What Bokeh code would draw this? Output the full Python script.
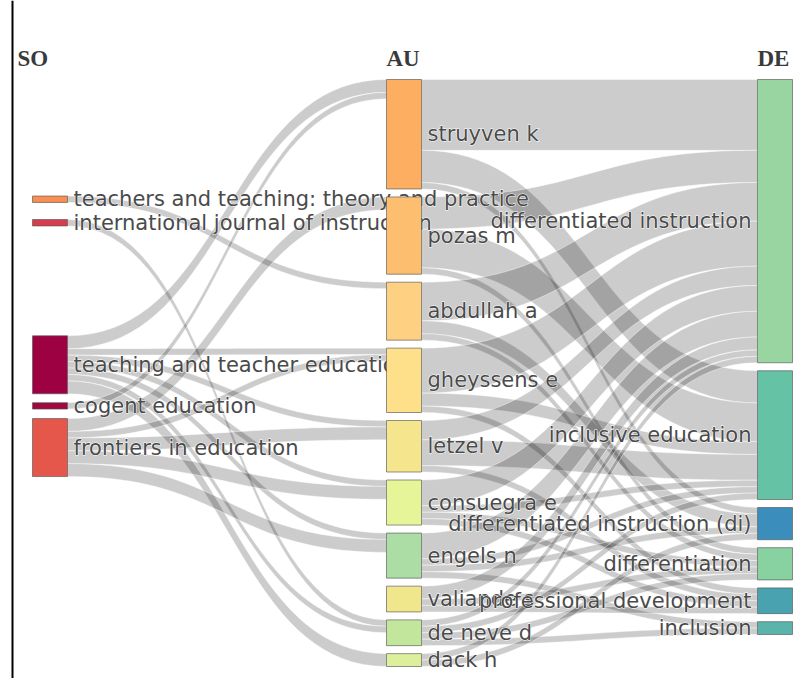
import numpy as np
from bokeh.plotting import figure
from bokeh.models import Range1d, Span
from bokeh.embed import file_html
from bokeh.resources import INLINE
from bokeh.core.properties import value

# ---------------- data ----------------
field_titles = ["SO", "AU", "DE"]

so_nodes = ["teachers and teaching: theory and practice",
            "international journal of instruction",
            "teaching and teacher education",
            "cogent education",
            "frontiers in education"]
au_nodes = ["struyven k", "pozas m", "abdullah a", "gheyssens e", "letzel v",
            "consuegra e", "engels n", "valiande s", "de neve d", "dack h"]
de_nodes = ["differentiated instruction", "inclusive education",
            "differentiated instruction (di)", "differentiation",
            "professional development", "inclusion"]

# SO -> AU links
sa_src = ["teachers and teaching: theory and practice",
          "international journal of instruction",
          "teaching and teacher education", "teaching and teacher education",
          "teaching and teacher education", "teaching and teacher education",
          "teaching and teacher education", "teaching and teacher education",
          "teaching and teacher education",
          "cogent education",
          "frontiers in education", "frontiers in education", "frontiers in education",
          "frontiers in education", "frontiers in education"]
sa_tgt = ["abdullah a",
          "de neve d",
          "struyven k", "gheyssens e", "letzel v", "consuegra e", "engels n", "de neve d", "dack h",
          "struyven k",
          "pozas m", "gheyssens e", "letzel v", "consuegra e", "engels n"]
sa_val = [1, 1, 2, 1, 1, 1, 1, 1, 2, 1, 2, 1, 2, 2, 2]

# AU -> DE links
ad_src = ["struyven k", "struyven k", "struyven k",
          "pozas m", "pozas m", "pozas m",
          "abdullah a", "abdullah a", "abdullah a",
          "gheyssens e", "gheyssens e", "gheyssens e",
          "letzel v", "letzel v", "letzel v",
          "consuegra e", "consuegra e", "consuegra e", "consuegra e",
          "engels n", "engels n", "engels n", "engels n",
          "valiande s", "valiande s", "valiande s",
          "de neve d", "de neve d", "de neve d", "de neve d",
          "dack h", "dack h"]
ad_tgt = ["differentiated instruction", "inclusive education", "differentiated instruction (di)",
          "differentiated instruction", "inclusive education", "differentiation",
          "differentiated instruction", "differentiated instruction (di)", "differentiation",
          "differentiated instruction", "inclusive education", "professional development",
          "differentiated instruction", "inclusive education", "professional development",
          "differentiated instruction", "inclusive education", "differentiation", "professional development",
          "differentiated instruction", "inclusive education", "differentiated instruction (di)", "inclusion",
          "differentiated instruction", "differentiation", "professional development",
          "differentiated instruction", "inclusive education", "differentiation", "inclusion",
          "differentiated instruction", "differentiated instruction (di)"]
ad_val = [11, 5, 1,
          5, 6, 1,
          6, 2, 1,
          7, 2, 1,
          3, 4, 1,
          4, 1, 1, 1,
          4, 1, 1, 1,
          2, 1, 1,
          1, 1, 1, 1,
          1, 1]

# ---------------- styles / layout settings ----------------
so_colors = ["#f98e52", "#d53e4f", "#9e0142", "#a0083f", "#e4574a"]
au_colors = ["#fdae61", "#fdbf6f", "#fed081", "#fee08b", "#f5e58c",
             "#e6f598", "#abdda4", "#f0e68c", "#c3e69d", "#dcf09b"]
de_colors = ["#99d5a0", "#66c2a5", "#3b8dbb", "#88d1a0", "#48a2b0", "#5ab4ac"]

COL_X = [32, 386, 757]          # left edge of each column of nodes
NODE_W = 35
TOP, BOTTOM = 79, 666           # vertical extent of the diagram
PAD = 8                         # gap between nodes
SO_NODE_Y = [0.204, 0.244, 0.486, 0.556, 0.627]   # fixed arrangement of first column (node centres)

col_nodes = [so_nodes, au_nodes, de_nodes]
col_colors = [so_colors, au_colors, de_colors]

links = []
for s, t, v in zip(sa_src, sa_tgt, sa_val):
    links.append((0, so_nodes.index(s), au_nodes.index(t), v))
for s, t, v in zip(ad_src, ad_tgt, ad_val):
    links.append((1, au_nodes.index(s), de_nodes.index(t), v))

in_sum = [np.zeros(len(c)) for c in col_nodes]
out_sum = [np.zeros(len(c)) for c in col_nodes]
for c, i, j, v in links:
    out_sum[c][i] += v
    in_sum[c + 1][j] += v
node_val = [np.maximum(in_sum[c], out_sum[c]) for c in range(3)]
ky = min((BOTTOM - TOP - (len(col_nodes[c]) - 1) * PAD) / node_val[c].sum() for c in range(3))
heights = [node_val[c] * ky for c in range(3)]

tops = []
so_tops = np.array([TOP + f * (BOTTOM - TOP) for f in SO_NODE_Y]) - heights[0] / 2
tops.append(so_tops)
for c in (1, 2):
    t = TOP + np.concatenate([[0], np.cumsum(heights[c][:-1] + PAD)])
    tops.append(t)

# link slots (outgoing ordered by target position, incoming by source position)
sy0 = {}
ty0 = {}
for c in (0, 1):
    for i in range(len(col_nodes[c])):
        ks = [k for k, l in enumerate(links) if l[0] == c and l[1] == i]
        ks.sort(key=lambda k: tops[c + 1][links[k][2]])
        y = tops[c][i]
        for k in ks:
            sy0[k] = y
            y += links[k][3] * ky
    for j in range(len(col_nodes[c + 1])):
        ks = [k for k, l in enumerate(links) if l[0] == c and l[2] == j]
        ks.sort(key=lambda k: tops[c][links[k][1]])
        y = tops[c + 1][j]
        for k in ks:
            ty0[k] = y
            y += links[k][3] * ky

tt = np.linspace(0, 1, 40)


def bez(x0, x1, y0, y1):
    xm = (x0 + x1) / 2
    bx = (1 - tt) ** 3 * x0 + 3 * (1 - tt) ** 2 * tt * xm + 3 * (1 - tt) * tt ** 2 * xm + tt ** 3 * x1
    by = (1 - tt) ** 3 * y0 + 3 * (1 - tt) ** 2 * tt * y0 + 3 * (1 - tt) * tt ** 2 * y1 + tt ** 3 * y1
    return bx, by


lxs, lys = [], []
for k, (c, i, j, v) in enumerate(links):
    xs0 = COL_X[c] + NODE_W
    xt0 = COL_X[c + 1]
    w = v * ky
    tx, tyv = bez(xs0, xt0, sy0[k], ty0[k])
    bx, byv = bez(xs0, xt0, sy0[k] + w, ty0[k] + w)
    lxs.append(list(tx) + list(bx[::-1]))
    lys.append(list(tyv) + list(byv[::-1]))

# ---------------- figure ----------------
W, H = 795, 678
p = figure(width=W, height=H, x_range=Range1d(0, W), y_range=Range1d(H, 0),
           output_backend="svg", toolbar_location=None, min_border=0)
p.axis.visible = False
p.grid.visible = False
p.outline_line_color = None
p.background_fill_color = "white"

p.add_layout(Span(location=12, dimension="height", line_color="black", line_width=2))

p.patches(lxs, lys, fill_color="black", fill_alpha=0.2,
          line_color="white", line_alpha=0.6, line_width=0.7)

LABEL_FONT = value("DejaVu Sans")
for c in range(3):
    left = np.full(len(col_nodes[c]), COL_X[c])
    p.quad(left=left, right=left + NODE_W, top=tops[c], bottom=tops[c] + heights[c],
           fill_color=col_colors[c], line_color="#555555", line_width=0.8, line_alpha=0.8)
    centers = tops[c] + heights[c] / 2
    if c < 2:
        lx = left + NODE_W + 6
        align = "left"
    else:
        lx = left - 6
        align = "right"
    # white halo underneath, then the label itself
    p.text(x=lx, y=centers, text=col_nodes[c], text_align=align, text_baseline="middle",
           text_font=LABEL_FONT, text_font_size="21px", text_color="white",
           text_outline_color="white")
    p.text(x=lx, y=centers, text=col_nodes[c], text_align=align, text_baseline="middle",
           text_font=LABEL_FONT, text_font_size="21px", text_color="#4a4a4a")

hx = [17, COL_X[1], COL_X[2]]
p.text(x=hx, y=[58] * 3, text=field_titles, text_align="left", text_baseline="alphabetic",
       text_font=value("Liberation Serif"), text_font_style="bold", text_font_size="23px",
       text_color="#3a3a3a")

open("out.html", "w").write(file_html(p, INLINE))
